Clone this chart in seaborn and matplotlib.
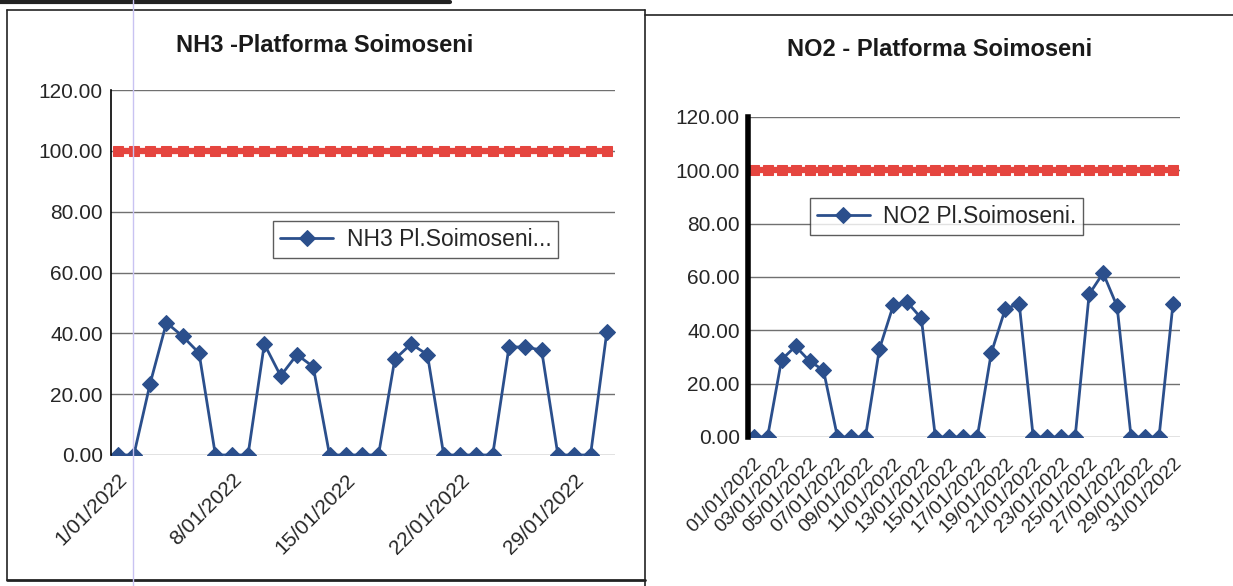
import matplotlib
matplotlib.use("Agg")
import matplotlib.pyplot as plt
from matplotlib.lines import Line2D
import seaborn as sns
import pandas as pd

# -----------------------
# Data (January 2022, daily)
# -----------------------

days = list(range(1, 32))

nh3_values = [0, 0, 23.5, 43.5, 39, 33.5, 0, 0, 0, 36.5, 26, 33, 29, 0, 0, 0,
              0, 31.5, 36.5, 33, 0, 0, 0, 0, 35.5, 35.5, 34.5, 0, 0, 0, 40.5]

no2_values = [0, 0, 29, 34, 28.5, 25, 0, 0, 0, 33, 49.5, 50.5, 44.5, 0, 0, 0,
              0, 31.5, 48, 50, 0, 0, 0, 0, 53.5, 61.5, 49, 0, 0, 0, 50]

limit_values = [100, 100, 100, 100, 100, 100, 100, 100, 100, 100, 100, 100,
                100, 100, 100, 100, 100, 100, 100, 100, 100, 100, 100, 100,
                100, 100, 100, 100, 100, 100, 100]

nh3_tick_days = [1, 8, 15, 22, 29]
nh3_tick_labels = ["1/01/2022", "8/01/2022", "15/01/2022", "22/01/2022",
                   "29/01/2022"]

no2_tick_days = [1, 3, 5, 7, 9, 11, 13, 15, 17, 19, 21, 23, 25, 27, 29, 31]
no2_tick_labels = ["01/01/2022", "03/01/2022", "05/01/2022", "07/01/2022",
                   "09/01/2022", "11/01/2022", "13/01/2022", "15/01/2022",
                   "17/01/2022", "19/01/2022", "21/01/2022", "23/01/2022",
                   "25/01/2022", "27/01/2022", "29/01/2022", "31/01/2022"]

y_ticks = [0, 20, 40, 60, 80, 100, 120]

BLUE = "#2b4f8c"
RED = "#e5453f"

sns.set_style("white")
plt.rcParams["font.family"] = ["Liberation Sans", "DejaVu Sans"]

W, H = 1233, 586
fig = plt.figure(figsize=(W / 100, H / 100), dpi=100)


def px_axes(left, top, right, bottom):
    return fig.add_axes([left / W, 1 - bottom / H, (right - left) / W,
                         (bottom - top) / H])


def draw_panel(ax, values, label, tick_days, tick_labels,
               tick_size, x_pad, spine_width, legend_pos):
    df = pd.DataFrame({"day": days, "value": values, "limit": limit_values})

    sns.lineplot(data=df, x="day", y="limit", ax=ax, color=RED,
                 linewidth=4.5, marker="s", markersize=6.5,
                 markeredgecolor=RED, legend=False)
    sns.lineplot(data=df, x="day", y="value", ax=ax, color=BLUE,
                 linewidth=2, marker="D", markersize=8,
                 markeredgecolor=BLUE, label=label)

    ax.set_xlim(0.6, 31.5)
    ax.set_ylim(0, 120)
    ax.set_yticks(y_ticks)
    ax.set_yticklabels([f"{v:.2f}" for v in y_ticks], fontsize=15)
    ax.set_xticks(tick_days)
    ax.set_xticklabels(tick_labels, rotation=45, ha="right",
                       rotation_mode="anchor", fontsize=tick_size)
    ax.tick_params(axis="y", length=0, pad=6)
    ax.tick_params(axis="x", length=0, pad=x_pad)
    ax.set_xlabel("")
    ax.set_ylabel("")

    ax.grid(axis="y", color="#707070", linewidth=1)
    ax.set_axisbelow(True)
    for side in ["top", "right", "bottom"]:
        ax.spines[side].set_visible(False)
    ax.spines["left"].set_color("black")
    ax.spines["left"].set_linewidth(spine_width)

    leg = ax.legend(loc="center", bbox_to_anchor=legend_pos, fontsize=16.5,
                    frameon=True, fancybox=False, handlelength=2.3,
                    borderpad=0.3, handletextpad=0.6)
    leg.get_frame().set_edgecolor("#333333")
    leg.get_frame().set_linewidth(1)


# -----------------------
# NH3 panel
# -----------------------

ax1 = px_axes(111, 90, 615, 455)
draw_panel(ax1, nh3_values, "NH3 Pl.Soimoseni...",
           nh3_tick_days, nh3_tick_labels, 15, 11, 1.2, (0.605, 0.59))
fig.text(325 / W, 1 - 45 / H, "NH3 -Platforma Soimoseni", ha="center",
         va="center", fontsize=17, fontweight="bold", color="#1a1a1a")

# -----------------------
# NO2 panel
# -----------------------

ax2 = px_axes(748, 117, 1180, 437)
draw_panel(ax2, no2_values, "NO2 Pl.Soimoseni.",
           no2_tick_days, no2_tick_labels, 14, 13, 4, (0.46, 0.69))
fig.text(940 / W, 1 - 50 / H, "NO2 - Platforma Soimoseni", ha="center",
         va="center", fontsize=17, fontweight="bold", color="#1a1a1a")

# -----------------------
# Page frame lines
# -----------------------

def fig_line(x0, y0, x1, y1, lw=1.2, color="#222222"):
    fig.add_artist(Line2D([x0 / W, x1 / W], [1 - y0 / H, 1 - y1 / H],
                          color=color, linewidth=lw))


fig_line(7, 10, 645, 10)
fig_line(7, 10, 7, 580)
fig_line(7, 580, 645, 580, lw=2)
fig_line(645, 10, 645, 586)
fig_line(645, 15, 1233, 15)
fig_line(0, 2, 450, 2, lw=3)
fig_line(133, 0, 133, 586, lw=1, color="#c9c3f2")

fig.savefig("out.png", dpi=100, facecolor="white")
